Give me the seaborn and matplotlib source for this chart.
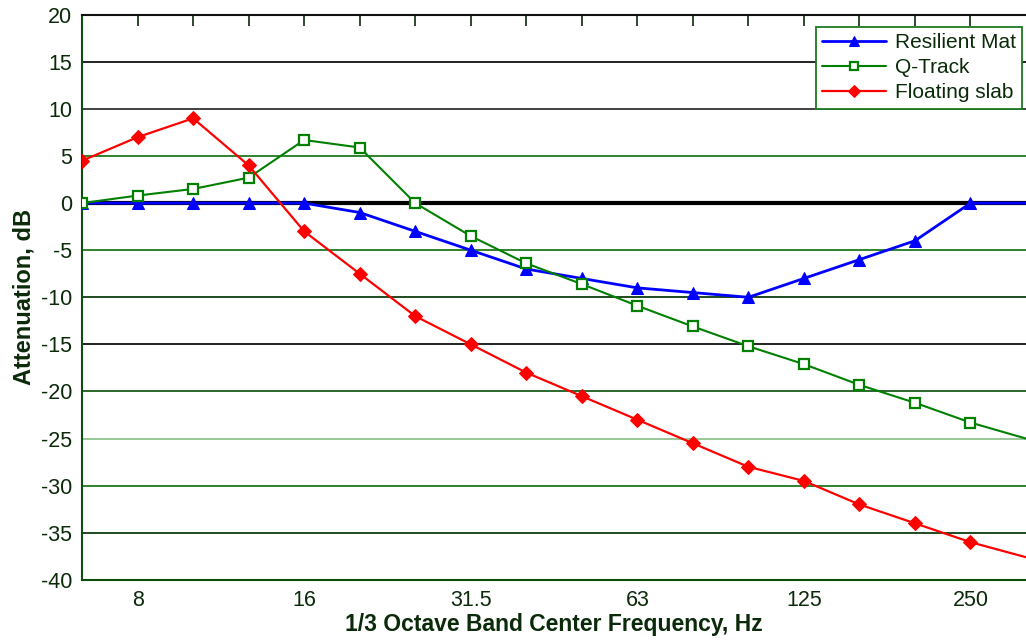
#%% dependencies
import numpy as np
import pandas as pd
import matplotlib
matplotlib.use('Agg')
import matplotlib.pyplot as plt
import seaborn as sns

#%% data
bands = ['6.3', '8', '10', '12.5', '16', '20', '25', '31.5', '40', '50',
         '63', '80', '100', '125', '160', '200', '250', '315']
labelled = ['8', '16', '31.5', '63', '125', '250']
resilient_mat = [0, 0, 0, 0, 0, -1, -3, -5, -7, -8, -9, -9.5, -10, -8, -6, -4, 0, 0]
q_track = [0, 0.8, 1.5, 2.7, 6.7, 5.9, 0, -3.5, -6.4, -8.6, -10.9, -13.1,
           -15.2, -17.1, -19.3, -21.2, -23.3, -25]
floating_slab = [4.5, 7, 9, 4, -3, -7.5, -12, -15, -18, -20.5, -23, -25.5,
                 -28, -29.5, -32, -34, -36, -37.6]
y_ticks = list(range(-40, 25, 5))

#%% frame
sns.set_style('white')
plt.rcParams['font.family'] = ['Liberation Sans', 'DejaVu Sans']
plt.rcParams['axes.unicode_minus'] = False
txt = '#0a2a0a'

fig = plt.figure(figsize=(10.26, 6.4), dpi=100)
ax = fig.add_axes([0.080, 0.094, 0.920, 0.883])

# horizontal grid lines, mixed green / black like the scan
grid_cols = {15: '#111111', 10: '#333333', 5: '#1f7a1f', -5: '#1f7a1f',
             -10: '#0d3d0d', -15: '#111111', -20: '#1a5c1a', -25: '#8fc48f',
             -30: '#1f7a1f', -35: '#0d3d0d'}
for yv, c in grid_cols.items():
    ax.axhline(yv, color=c, lw=1.3, zorder=1)
ax.axhline(0, color='black', lw=3, zorder=1)

x = np.arange(len(bands))
marked = list(range(len(bands) - 1))  # last point only runs the line to the edge
series = [('Resilient Mat', resilient_mat, 'blue', '^', dict(ms=9, lw=2)),
          ('Q-Track', q_track, 'green', 's', dict(ms=6.5, lw=1.5, mfc='white', mew=1.6)),
          ('Floating slab', floating_slab, 'red', 'D', dict(ms=7.5, lw=1.6))]
for name, vals, col, mk, kw in series:
    sns.lineplot(x=x, y=vals, ax=ax, color=col, marker=mk, label=name,
                 markeredgecolor=col, markevery=marked, zorder=3, **kw)

ax.set_xlim(0, len(bands) - 1)
ax.set_ylim(-40, 20)
ax.set_yticks(y_ticks)
ax.set_xticks(x[1:-1])
ax.set_xticklabels([b if b in labelled else '' for b in bands[1:-1]])
ax.tick_params(direction='in', length=8, width=1.2, top=True, colors=txt,
               labelsize=15.5, pad=7)
ax.tick_params(axis='x', pad=7)

for side in ['left', 'bottom']:
    ax.spines[side].set_color('#0d4d0d')
    ax.spines[side].set_linewidth(1.5)
ax.spines['top'].set_color('#111111')
ax.spines['top'].set_linewidth(1.5)
ax.spines['right'].set_visible(False)

ax.set_xlabel('1/3 Octave Band Center Frequency, Hz', fontsize=16.5,
              fontweight='bold', color=txt, labelpad=2)
ax.set_ylabel('Attenuation, dB', fontsize=17, fontweight='bold', color=txt,
              labelpad=4)

leg = ax.legend(loc='upper right', bbox_to_anchor=(0.9958, 0.979), fontsize=15,
                frameon=True, fancybox=False, borderpad=0.3, labelspacing=0.3,
                handlelength=3.1, handletextpad=0.4, borderaxespad=0,
                markerscale=0.8)
leg.get_frame().set_edgecolor('#1f7a1f')
leg.get_frame().set_linewidth(1.3)
leg.get_frame().set_alpha(1)
for t in leg.get_texts():
    t.set_color(txt)

fig.savefig('out.png', dpi=100)
